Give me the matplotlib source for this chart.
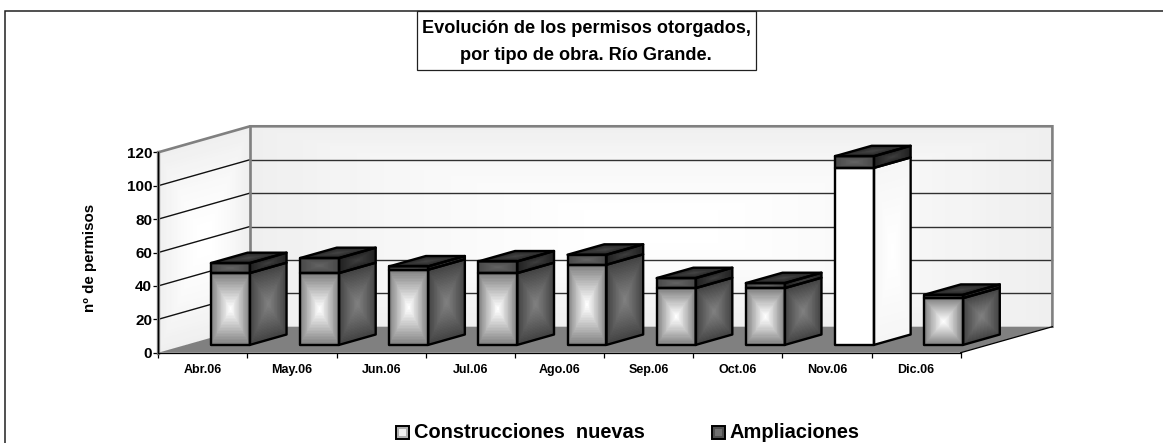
import numpy as np
import matplotlib
matplotlib.use("Agg")
import matplotlib.pyplot as plt
from matplotlib.patches import Rectangle, Polygon
from matplotlib.lines import Line2D
from matplotlib.legend_handler import HandlerBase

plt.rcParams['font.family'] = ['Liberation Sans', 'DejaVu Sans']
plt.rcParams['font.weight'] = 'bold'

# ---- data
categories = ['Abr.06', 'May.06', 'Jun.06', 'Jul.06', 'Ago.06', 'Sep.06', 'Oct.06', 'Nov.06', 'Dic.06']
construcciones = [43, 43, 45, 43, 48, 34, 34, 106, 28]
ampliaciones = [6, 9, 2, 7, 6, 6, 3, 7, 2]
yticks = [0, 20, 40, 60, 80, 100, 120]
title_lines = ['Evolución de los permisos otorgados,', 'por tipo de obra. Río Grande.']
series_names = ['Construcciones  nuevas', 'Ampliaciones']
ylabel = 'nº de permisos'

# ---- layout
W, H = 1163, 443
L, R, T, B = 158.3, 960.7, 152.3, 352.7
fig = plt.figure(figsize=(W / 100, H / 100), dpi=100, facecolor='white')
ax = fig.add_axes([L / W, 1 - B / H, (R - L) / W, (B - T) / H])
ax.set_xlim(0, len(categories))
ax.set_ylim(0, 120)
ax.patch.set_visible(False)

DX = 91.7 / ((R - L) / len(categories))
DY = 26.0 / ((B - T) / 120)
D0, D1 = 0.30, 0.70
BW = 0.437
LW = 1.7


def proj(x, y, d):
    return x + d * DX, y + d * DY


def cmap_face(corners, edge, center, z, n=48, power=1.0):
    """corners: p00, p10, p11, p01; rectangular (box) gradient"""
    p00, p10, p11, p01 = [np.array(c, float) for c in corners]
    u = np.linspace(0, 1, n + 1)
    v = np.linspace(0, 1, n + 1)
    U, V = np.meshgrid(u, v)
    X = (1 - U) * (1 - V) * p00[0] + U * (1 - V) * p10[0] + U * V * p11[0] + (1 - U) * V * p01[0]
    Y = (1 - U) * (1 - V) * p00[1] + U * (1 - V) * p10[1] + U * V * p11[1] + (1 - U) * V * p01[1]
    uc = (u[:-1] + u[1:]) / 2
    vc = (v[:-1] + v[1:]) / 2
    Uc, Vc = np.meshgrid(uc, vc)
    t = np.maximum(np.abs(2 * Uc - 1), np.abs(2 * Vc - 1)) ** power
    C = center + (edge - center) * t
    ax.pcolormesh(X, Y, C, cmap='gray', vmin=0, vmax=255, shading='flat', clip_on=False,
                  zorder=z, antialiased=False)


def outline(corners, z):
    ax.add_patch(Polygon(corners, closed=True, fill=False, edgecolor='black', lw=LW,
                         joinstyle='round', clip_on=False, zorder=z))


# ---- walls and floor
nx = len(categories)
left_wall = [proj(0, 0, 0), proj(0, 0, 1), proj(0, 120, 1), proj(0, 120, 0)]
back_wall = [proj(0, 0, 1), proj(nx, 0, 1), proj(nx, 120, 1), proj(0, 120, 1)]
floor = [proj(0, 0, 0), proj(nx, 0, 0), proj(nx, 0, 1), proj(0, 0, 1)]
cmap_face(left_wall, 238, 255, 1, n=60, power=1.5)
cmap_face(back_wall, 238, 255, 1, n=60, power=1.5)
ax.add_patch(Polygon(floor, closed=True, facecolor='#808080', edgecolor='none', clip_on=False, zorder=2))

for yt in yticks[1:-1]:
    xa, ya = proj(0, yt, 0)
    xb, yb = proj(0, yt, 1)
    xc, yc = proj(nx, yt, 1)
    ax.plot([xa, xb], [ya, yb], color='#101010', lw=1.0, clip_on=False, zorder=3)
    ax.plot([xb, xc], [yb, yc], color='#303030', lw=1.0, clip_on=False, zorder=3)

# grey wall frame
frame = [proj(0, 120, 0), proj(0, 120, 1), proj(nx, 120, 1), proj(nx, 0, 1)]
ax.plot([p[0] for p in frame], [p[1] for p in frame], color='#808080', lw=1.9, clip_on=False, zorder=3,
        solid_joinstyle='miter')
ax.plot([proj(0, 0, 1)[0], proj(0, 120, 1)[0]], [proj(0, 0, 1)[1], proj(0, 120, 1)[1]],
        color='#808080', lw=1.9, clip_on=False, zorder=3)
ax.plot([0, 0], [0, 120], color='#808080', lw=2.4, clip_on=False, zorder=3)
ax.plot([proj(nx, 0, 0)[0], proj(nx, 0, 1)[0]], [proj(nx, 0, 0)[1], proj(nx, 0, 1)[1]],
        color='black', lw=0.9, clip_on=False, zorder=3)

# ---- bars
white_bars = {'Nov.06'}
for i, (cat, a, b) in enumerate(zip(categories, construcciones, ampliaciones)):
    x0 = i + 0.5 - BW / 2
    x1 = i + 0.5 + BW / 2
    z = 10 + i
    levels = [(0, a), (a, a + b)]
    for k, (lo, hi) in enumerate(levels):
        front = [proj(x0, lo, D0), proj(x1, lo, D0), proj(x1, hi, D0), proj(x0, hi, D0)]
        side = [proj(x1, lo, D0), proj(x1, lo, D1), proj(x1, hi, D1), proj(x1, hi, D0)]
        if k == 0:
            if cat in white_bars:
                cmap_face(front, 255, 255, z, n=4)
                cmap_face(side, 245, 255, z)
            else:
                cmap_face(front, 125, 255, z, power=1.1)
                cmap_face(side, 65, 128, z, power=1.1)
        else:
            cmap_face(front, 72, 100, z)
            cmap_face(side, 32, 62, z)
        outline(front, z + 0.3)
        outline(side, z + 0.3)
    top_h = a + b
    top = [proj(x0, top_h, D0), proj(x1, top_h, D0), proj(x1, top_h, D1), proj(x0, top_h, D1)]
    cmap_face(top, 35, 68, z)
    outline(top, z + 0.3)

# ---- axes
for s in ('top', 'right'):
    ax.spines[s].set_visible(False)
for s in ('left', 'bottom'):
    ax.spines[s].set_color('black')
    ax.spines[s].set_linewidth(0.9)
    ax.spines[s].set_zorder(30)
ax.set_yticks(yticks)
ax.set_yticklabels([str(v) for v in yticks], fontsize=11, fontweight='bold')
ax.tick_params(axis='y', length=3.5, width=0.9, pad=1, color='black')
ax.set_xticks(np.arange(nx + 1), minor=True)
ax.set_xticks(np.arange(nx) + 0.5)
ax.set_xticklabels(categories, fontsize=9, fontweight='bold')
ax.tick_params(axis='x', which='major', length=0, pad=8)
ax.tick_params(axis='x', which='minor', length=3.5, width=0.9, color='black')
fig.text(90 / W, 1 - 258 / H, ylabel, rotation=90, ha='center', va='center', fontsize=10.9, fontweight='bold')


# ---- legend
class BoxHandler(HandlerBase):
    def __init__(self, grays):
        super().__init__()
        self.grays = grays

    def create_artists(self, legend, orig, xd, yd, width, height, fontsize, trans):
        s = 9.5
        x = width - s - 1.5
        y = -0.5
        arts = [Rectangle((x, y), s, s, facecolor=self.grays[0], edgecolor='black', lw=1.4, transform=trans),
                Rectangle((x + 2.2, y + 2.2), s - 4.4, s - 4.4, facecolor=self.grays[1], edgecolor='none', transform=trans)]
        return arts


h1, h2 = Line2D([], []), Line2D([], [])
leg = fig.legend([h1, h2], series_names, ncol=2, frameon=False, loc='center',
                 bbox_to_anchor=(627.5 / W, 1 - 432.5 / H), handlelength=0.8,
                 handletextpad=0.15, columnspacing=3.3, borderpad=0, borderaxespad=0,
                 prop={'size': 14.4, 'weight': 'bold'},
                 handler_map={h1: BoxHandler(('#b0b0b0', '#f0f0f0')), h2: BoxHandler(('#505050', '#707070'))})

# ---- outer frame and title box
fig.add_artist(Line2D([4.7 / W, 4.7 / W, 1], [0, 1 - 11 / H, 1 - 11 / H], transform=fig.transFigure,
                      color='#202020', lw=1.1, solid_joinstyle='miter'))
fig.add_artist(Rectangle((416.5 / W, 1 - 70 / H), (756 - 416.5) / W, 59 / H, transform=fig.transFigure,
                         facecolor='white', edgecolor='#202020', lw=0.9))
fig.text(586 / W, 1 - 28.5 / H, title_lines[0], ha='center', va='center', fontsize=13.1, fontweight='bold')
fig.text(586 / W, 1 - 55 / H, title_lines[1], ha='center', va='center', fontsize=13.1, fontweight='bold')

fig.savefig('out.png', dpi=100)
